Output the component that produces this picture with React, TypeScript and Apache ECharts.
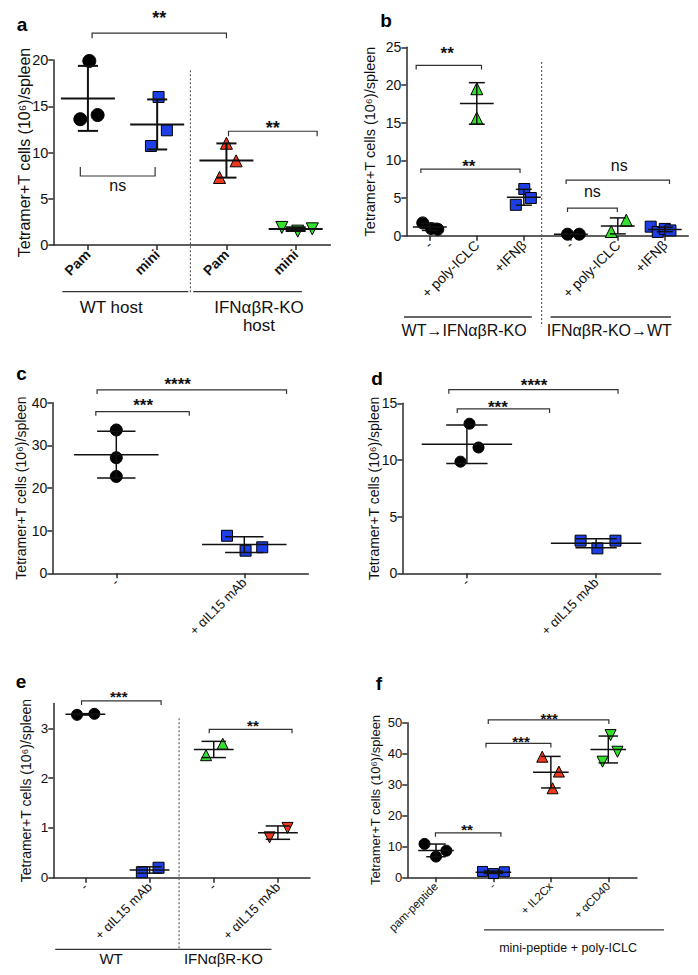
import React, { useEffect, useRef } from 'react';
import * as echarts from 'echarts';

const FONT = '"Liberation Sans", Arial, Helvetica, sans-serif';
const BLACK = '#000000';
const BLUE = '#1f3fe6';
const RED = '#f0381c';
const GREEN = '#33e02b';
const AXIS = '#2a2a2a';
const Y_NAME = 'Tetramer+T cells (10⁶)/spleen';

// ---------- Panel a ----------
const aCategories = ['Pam', 'mini', 'Pam', 'mini'];
const aYMax = 20;
const aYStep = 5;
const aWtPam = [19.9, 13.6, 14.05];
const aWtPamJitter = [0.02, -0.11, 0.14];
const aWtMini = [16.0, 12.4, 10.7];
const aWtMiniJitter = [0.02, 0.14, -0.09];
const aKoPam = [11.0, 9.1, 7.3];
const aKoPamJitter = [0.0, 0.14, -0.1];
const aKoMini = [1.9, 1.5, 1.75];
const aKoMiniJitter = [-0.2, 0.03, 0.24];

// ---------- Panel b ----------
const bCategories = ['-', '+ poly-ICLC', '+IFNβ', '-', '+ poly-ICLC', '+IFNβ'];
const bYMax = 25;
const bYStep = 5;
const bWtNone = [1.7, 0.95, 0.85];
const bWtNoneJitter = [-0.15, 0.03, 0.17];
const bWtPoly = [19.5, 15.6];
const bWtPolyJitter = [0, 0];
const bWtIfn = [4.1, 6.2, 5.0];
const bWtIfnJitter = [-0.17, 0.01, 0.15];
const bKoNone = [0.2, 0.2];
const bKoNoneJitter = [-0.07, 0.18];
const bKoPoly = [0.55, 2.05];
const bKoPolyJitter = [-0.14, 0.18];
const bKoIfn = [1.2, 0.5, 0.9, 0.7];
const bKoIfnJitter = [-0.3, -0.15, 0.0, 0.12];

// ---------- Panel c ----------
const cCategories = ['-', '+ αIL15 mAb'];
const cYMax = 40;
const cYStep = 10;
const cNone = [33.6, 27.1, 22.7];
const cNoneJitter = [0, 0, 0];
const cAb = [8.8, 5.3, 6.1];
const cAbJitter = [-0.135, 0.01, 0.14];

// ---------- Panel d ----------
const dCategories = ['-', '+ αIL15 mAb'];
const dYMax = 15;
const dYStep = 5;
const dNone = [13.2, 11.1, 9.85];
const dNoneJitter = [0.02, 0.09, -0.05];
const dAb = [2.88, 2.2, 2.88];
const dAbJitter = [-0.12, 0.01, 0.15];

// ---------- Panel e ----------
const eCategories = ['-', '+ αIL15 mAb', '-', '+ αIL15 mAb'];
const eYMax = 3.5;
const eYStep = 1;
const eYLabels = [0, 1, 2, 3];
const eWtNone = [3.27, 3.29];
const eWtNoneJitter = [-0.13, 0.14];
const eWtAb = [0.11, 0.2];
const eWtAbJitter = [-0.12, 0.14];
const eKoNone = [2.46, 2.69];
const eKoNoneJitter = [-0.12, 0.14];
const eKoAb = [0.81, 1.0];
const eKoAbJitter = [-0.13, 0.15];

// ---------- Panel f ----------
const fCategories = ['pam-peptide', '-', '+ IL2Cx', '+ αCD40'];
const fYMax = 50;
const fYStep = 10;
const fPam = [10.8, 6.7, 8.6];
const fPamJitter = [-0.2, 0.0, 0.18];
const fNone = [1.9, 1.2, 1.8];
const fNoneJitter = [-0.19, 0.0, 0.19];
const fIl2 = [39.0, 34.2, 28.8];
const fIl2Jitter = [-0.15, 0.14, 0.03];
const fCd40 = [46.0, 37.4, 40.6];
const fCd40Jitter = [0.04, -0.1, 0.16];

type Group = { cat: number; values: number[]; jitter: number[]; color: string; symbol: string; rotate?: number; size: number };
type Bracket = { x1: number; x2: number; y: number; tx: number; ty: number; text: string; up?: boolean; tick?: number };
type GLine = { x1: number; x2: number; y: number };
type GText = { x: number; y: number; text: string };
type Sep = { x: number; y1: number; y2: number };
type Panel = {
  letter: string; letterX: number; letterY: number;
  left: number; top: number; width: number; height: number;
  categories: string[]; yMax: number; yStep: number; yLabels?: number[];
  groups: Group[]; brackets: Bracket[]; glines: GLine[]; gtexts: GText[]; seps: Sep[];
  meanFrac: number; capFrac: number; barWidth: number;
  tickFont: number; catFont: number; catBold?: boolean; nameFont: number; nameGap: number;
  gtextFont: number; starFont: number;
};

const mean = (v: number[]) => v.reduce((s, x) => s + x, 0) / v.length;
const sd = (v: number[]) => {
  const m = mean(v);
  return Math.sqrt(v.reduce((s, x) => s + (x - m) * (x - m), 0) / (v.length - 1));
};

const panels: Panel[] = [
  {
    letter: 'a', letterX: 22, letterY: 24,
    left: 53.3, top: 60, width: 277, height: 185,
    categories: aCategories, yMax: aYMax, yStep: aYStep,
    groups: [
      { cat: 0, values: aWtPam, jitter: aWtPamJitter, color: BLACK, symbol: 'circle', size: 13 },
      { cat: 1, values: aWtMini, jitter: aWtMiniJitter, color: BLUE, symbol: 'rect', size: 11 },
      { cat: 2, values: aKoPam, jitter: aKoPamJitter, color: RED, symbol: 'triangle', size: 12 },
      { cat: 3, values: aKoMini, jitter: aKoMiniJitter, color: GREEN, symbol: 'triangle', rotate: 180, size: 12 },
    ],
    brackets: [
      { x1: 0.06, x2: 2.0, y: 22.9, tx: 1.03, ty: 24.97, text: '**', tick: 5 },
      { x1: -0.11, x2: 0.97, y: 7.46, tx: 0.43, ty: 6.38, text: 'ns', up: true, tick: 9 },
      { x1: 2.03, x2: 3.31, y: 12.3, tx: 2.67, ty: 13.1, text: '**', tick: 5 },
    ],
    seps: [{ x: 1.48, y1: 18.9, y2: -5.2 }],
    glines: [{ x1: -0.37, x2: 1.45, y: -5.05 }, { x1: 1.52, x2: 3.09, y: -5.05 }],
    gtexts: [{ x: 0.335, y: -6.76, text: 'WT host' }, { x: 2.47, y: -7.68, text: 'IFNαβR-KO\nhost' }],
    meanFrac: 0.39, capFrac: 0.145, barWidth: 2,
    tickFont: 14.5, catFont: 14, catBold: true, nameFont: 16, nameGap: 21, gtextFont: 17, starFont: 18,
  },
  {
    letter: 'b', letterX: 386, letterY: 20,
    left: 406.3, top: 47.3, width: 282, height: 188.4,
    categories: bCategories, yMax: bYMax, yStep: bYStep,
    groups: [
      { cat: 0, values: bWtNone, jitter: bWtNoneJitter, color: BLACK, symbol: 'circle', size: 12 },
      { cat: 1, values: bWtPoly, jitter: bWtPolyJitter, color: GREEN, symbol: 'triangle', size: 12 },
      { cat: 2, values: bWtIfn, jitter: bWtIfnJitter, color: BLUE, symbol: 'rect', size: 11 },
      { cat: 3, values: bKoNone, jitter: bKoNoneJitter, color: BLACK, symbol: 'circle', size: 12 },
      { cat: 4, values: bKoPoly, jitter: bKoPolyJitter, color: GREEN, symbol: 'triangle', size: 12 },
      { cat: 5, values: bKoIfn, jitter: bKoIfnJitter, color: BLUE, symbol: 'rect', size: 11 },
    ],
    brackets: [
      { x1: -0.29, x2: 1.1, y: 22.6, tx: 0.37, ty: 24.65, text: '**' },
      { x1: -0.19, x2: 1.92, y: 8.84, tx: 0.83, ty: 9.65, text: '**' },
      { x1: 2.9, x2: 5.1, y: 7.38, tx: 4.03, ty: 9.3, text: 'ns' },
      { x1: 2.93, x2: 3.99, y: 3.67, tx: 3.46, ty: 5.86, text: 'ns' },
    ],
    seps: [{ x: 2.38, y1: 23.05, y2: -12.0 }],
    glines: [{ x1: -0.55, x2: 2.17, y: -10.79 }, { x1: 2.57, x2: 5.13, y: -10.79 }],
    gtexts: [{ x: 0.73, y: -12.57, text: 'WT→IFNαβR-KO' }, { x: 3.82, y: -12.57, text: 'IFNαβR-KO→WT' }],
    meanFrac: 0.36, capFrac: 0.17, barWidth: 1.5,
    tickFont: 14, catFont: 14, nameFont: 14.5, nameGap: 29, gtextFont: 16, starFont: 17,
  },
  {
    letter: 'c', letterX: 21.5, letterY: 373,
    left: 52.3, top: 402.7, width: 256, height: 170.6,
    categories: cCategories, yMax: cYMax, yStep: cYStep,
    groups: [
      { cat: 0, values: cNone, jitter: cNoneJitter, color: BLACK, symbol: 'circle', size: 12 },
      { cat: 1, values: cAb, jitter: cAbJitter, color: BLUE, symbol: 'rect', size: 11 },
    ],
    brackets: [
      { x1: -0.15, x2: 1.33, y: 43.0, tx: 0.48, ty: 45.3, text: '****' },
      { x1: -0.16, x2: 0.57, y: 37.9, tx: 0.21, ty: 40.2, text: '***' },
    ],
    seps: [], glines: [], gtexts: [],
    meanFrac: 0.33, capFrac: 0.15, barWidth: 1.5,
    tickFont: 14, catFont: 13, nameFont: 14, nameGap: 24, gtextFont: 15, starFont: 17,
  },
  {
    letter: 'd', letterX: 377, letterY: 378,
    left: 402.3, top: 403.3, width: 258.4, height: 170,
    categories: dCategories, yMax: dYMax, yStep: dYStep,
    groups: [
      { cat: 0, values: dNone, jitter: dNoneJitter, color: BLACK, symbol: 'circle', size: 11 },
      { cat: 1, values: dAb, jitter: dAbJitter, color: BLUE, symbol: 'rect', size: 11 },
    ],
    brackets: [
      { x1: -0.14, x2: 1.17, y: 16.2, tx: 0.52, ty: 16.9, text: '****' },
      { x1: -0.075, x2: 0.64, y: 14.5, tx: 0.24, ty: 15.0, text: '***' },
    ],
    seps: [], glines: [], gtexts: [],
    meanFrac: 0.35, capFrac: 0.16, barWidth: 1.5,
    tickFont: 14, catFont: 13, nameFont: 14, nameGap: 21, gtextFont: 15, starFont: 17,
  },
  {
    letter: 'e', letterX: 21, letterY: 681,
    left: 53.3, top: 703.4, width: 256.7, height: 174.3,
    categories: eCategories, yMax: eYMax, yStep: eYStep, yLabels: eYLabels,
    groups: [
      { cat: 0, values: eWtNone, jitter: eWtNoneJitter, color: BLACK, symbol: 'circle', size: 11 },
      { cat: 1, values: eWtAb, jitter: eWtAbJitter, color: BLUE, symbol: 'rect', size: 11 },
      { cat: 2, values: eKoNone, jitter: eKoNoneJitter, color: GREEN, symbol: 'triangle', size: 11 },
      { cat: 3, values: eKoAb, jitter: eKoAbJitter, color: RED, symbol: 'triangle', rotate: 180, size: 11 },
    ],
    brackets: [
      { x1: -0.06, x2: 1.18, y: 3.55, tx: 0.52, ty: 3.71, text: '***' },
      { x1: 1.93, x2: 3.22, y: 2.98, tx: 2.61, ty: 3.13, text: '**' },
    ],
    seps: [{ x: 1.46, y1: 3.2, y2: -1.45 }],
    glines: [{ x1: -0.47, x2: 1.44, y: -1.44 }, { x1: 1.44, x2: 2.9, y: -1.44 }],
    gtexts: [{ x: 0.4, y: -1.63, text: 'WT' }, { x: 2.15, y: -1.63, text: 'IFNαβR-KO' }],
    meanFrac: 0.31, capFrac: 0.19, barWidth: 1.5,
    tickFont: 13.5, catFont: 13, nameFont: 14, nameGap: 20, gtextFont: 15, starFont: 15,
  },
  {
    letter: 'f', letterX: 379, letterY: 683,
    left: 407.3, top: 722.7, width: 229.7, height: 154.6,
    categories: fCategories, yMax: fYMax, yStep: fYStep,
    groups: [
      { cat: 0, values: fPam, jitter: fPamJitter, color: BLACK, symbol: 'circle', size: 11 },
      { cat: 1, values: fNone, jitter: fNoneJitter, color: BLUE, symbol: 'rect', size: 10 },
      { cat: 2, values: fIl2, jitter: fIl2Jitter, color: RED, symbol: 'triangle', size: 11 },
      { cat: 3, values: fCd40, jitter: fCd40Jitter, color: GREEN, symbol: 'triangle', rotate: 180, size: 11 },
    ],
    brackets: [
      { x1: -0.01, x2: 1.13, y: 14.4, tx: 0.54, ty: 16.6, text: '**' },
      { x1: 0.87, x2: 2.0, y: 43.3, tx: 1.48, ty: 45.1, text: '***' },
      { x1: 0.91, x2: 3.01, y: 50.9, tx: 1.97, ty: 52.5, text: '***' },
    ],
    seps: [],
    glines: [{ x1: 0.836, x2: 3.97, y: -17.0 }],
    gtexts: [{ x: 2.3, y: -22.9, text: 'mini-peptide + poly-ICLC' }],
    meanFrac: 0.31, capFrac: 0.17, barWidth: 1.5,
    tickFont: 13, catFont: 11.5, nameFont: 13, nameGap: 25, gtextFont: 12.5, starFont: 15,
  },
];

function buildOption(): any {
  const grid: any[] = [];
  const xAxis: any[] = [];
  const yAxis: any[] = [];
  const series: any[] = [];
  const graphic: any[] = [];

  panels.forEach((p, i) => {
    const n = p.categories.length;
    grid.push({ left: p.left, top: p.top, width: p.width, height: p.height, containLabel: false });
    xAxis.push({
      type: 'category', gridIndex: i, data: p.categories, boundaryGap: true, position: 'bottom',
      axisLine: { show: true, onZero: false, lineStyle: { color: AXIS, width: 1.5 } },
      axisTick: { show: true, alignWithLabel: true, length: 5, lineStyle: { color: AXIS, width: 1.5 } },
      axisLabel: {
        interval: 0, rotate: 45, margin: 7, fontSize: p.catFont, fontFamily: FONT,
        fontWeight: p.catBold ? 'bold' : 'normal', color: '#111',
      },
      splitLine: { show: false },
    });
    xAxis.push({ type: 'value', gridIndex: i, min: -0.5, max: n - 0.5, show: false, axisLine: { onZero: false } });
    const yTick: any = { show: true, length: 5, lineStyle: { color: AXIS, width: 1.5 } };
    const yLab: any = { fontSize: p.tickFont, fontFamily: FONT, color: '#111', margin: 5 };
    if (p.yLabels) {
      yTick.customValues = p.yLabels;
      yLab.customValues = p.yLabels;
    }
    yAxis.push({
      type: 'value', gridIndex: i, min: 0, max: p.yMax, interval: p.yStep, position: 'left',
      name: Y_NAME, nameLocation: 'middle', nameRotate: 90, nameGap: p.nameGap, nameMoveOverlap: false,
      nameTextStyle: { fontSize: p.nameFont, fontFamily: FONT, color: '#111' },
      axisLine: { show: true, onZero: false, lineStyle: { color: AXIS, width: 1.5 } },
      axisTick: yTick, axisLabel: yLab, splitLine: { show: false },
    });

    const xi = 2 * i + 1;
    p.groups.forEach((g) => {
      series.push({
        type: 'scatter', xAxisIndex: xi, yAxisIndex: i, silent: true, z: 3,
        symbol: g.symbol, symbolSize: g.size, symbolRotate: g.rotate || 0,
        data: g.values.map((v, k) => [g.cat + g.jitter[k], v]),
        itemStyle: { color: g.color, borderColor: '#000', borderWidth: 1, opacity: 1 },
      });
    });

    // error bars: mean ± SD computed from the values
    series.push({
      type: 'custom', xAxisIndex: xi, yAxisIndex: i, silent: true, clip: false, z: 4,
      data: p.groups.map((g) => {
        const m = mean(g.values);
        const s = sd(g.values);
        return [g.cat, m, m - s, m + s];
      }),
      renderItem: (params: any, api: any) => {
        const x = api.value(0);
        const pm = api.coord([x, api.value(1)]);
        const pl = api.coord([x, api.value(2)]);
        const ph = api.coord([x, api.value(3)]);
        const band = api.size([1, 0])[0];
        const mw = band * p.meanFrac;
        const cw = band * p.capFrac;
        const st = () => ({ stroke: '#111', lineWidth: p.barWidth });
        return {
          type: 'group',
          children: [
            { type: 'line', shape: { x1: pm[0] - mw, y1: pm[1], x2: pm[0] + mw, y2: pm[1] }, style: st() },
            { type: 'line', shape: { x1: pl[0], y1: pl[1], x2: ph[0], y2: ph[1] }, style: st() },
            { type: 'line', shape: { x1: pl[0] - cw, y1: pl[1], x2: pl[0] + cw, y2: pl[1] }, style: st() },
            { type: 'line', shape: { x1: ph[0] - cw, y1: ph[1], x2: ph[0] + cw, y2: ph[1] }, style: st() },
          ],
        };
      },
    });

    // significance brackets
    series.push({
      type: 'custom', xAxisIndex: xi, yAxisIndex: i, silent: true, clip: false, z: 5,
      data: p.brackets.map((b) => [b.x1, b.y, b.x2, b.tx, b.ty]),
      renderItem: (params: any, api: any) => {
        const b = p.brackets[params.dataIndex];
        const l = api.coord([api.value(0), api.value(1)]);
        const r = api.coord([api.value(2), api.value(1)]);
        const t = api.coord([api.value(3), api.value(4)]);
        const tk = b.up ? -(b.tick ?? 9) : (b.tick ?? 4);
        const star = b.text.indexOf('*') >= 0;
        const fs = star ? p.starFont : 16;
        return {
          type: 'group',
          children: [
            {
              type: 'polyline',
              shape: { points: [[l[0], l[1] + tk], [l[0], l[1]], [r[0], r[1]], [r[0], r[1] + tk]] },
              style: { stroke: '#333', lineWidth: 1.2, fill: 'none' },
            },
            {
              type: 'text', x: t[0], y: t[1] + (star ? fs * 0.23 : 0),
              style: {
                text: b.text, fontSize: fs, fontFamily: FONT, fontWeight: star ? 'bold' : 'normal',
                fill: '#111', align: 'center', verticalAlign: 'middle',
              },
            },
          ],
        };
      },
    });

    if (p.seps.length) {
      series.push({
        type: 'custom', xAxisIndex: xi, yAxisIndex: i, silent: true, clip: false, z: 2,
        data: p.seps.map((s) => [s.x, s.y1, s.y2]),
        renderItem: (params: any, api: any) => {
          const a = api.coord([api.value(0), api.value(1)]);
          const b = api.coord([api.value(0), api.value(2)]);
          return {
            type: 'line', shape: { x1: a[0], y1: a[1], x2: b[0], y2: b[1] },
            style: { stroke: '#555', lineWidth: 1.1, lineDash: [2, 2] },
          };
        },
      });
    }
    if (p.glines.length) {
      series.push({
        type: 'custom', xAxisIndex: xi, yAxisIndex: i, silent: true, clip: false, z: 2,
        data: p.glines.map((g) => [g.x1, g.y, g.x2]),
        renderItem: (params: any, api: any) => {
          const a = api.coord([api.value(0), api.value(1)]);
          const b = api.coord([api.value(2), api.value(1)]);
          return {
            type: 'line', shape: { x1: a[0], y1: a[1], x2: b[0], y2: b[1] },
            style: { stroke: '#333', lineWidth: 1.3 },
          };
        },
      });
    }
    if (p.gtexts.length) {
      series.push({
        type: 'custom', xAxisIndex: xi, yAxisIndex: i, silent: true, clip: false, z: 2,
        data: p.gtexts.map((g) => [g.x, g.y]),
        renderItem: (params: any, api: any) => {
          const g = p.gtexts[params.dataIndex];
          const a = api.coord([api.value(0), api.value(1)]);
          return {
            type: 'text', x: a[0], y: a[1],
            style: {
              text: g.text, fontSize: p.gtextFont, fontFamily: FONT, fill: '#111',
              align: 'center', verticalAlign: 'middle', lineHeight: p.gtextFont + 1,
            },
          };
        },
      });
    }

    graphic.push({
      type: 'text', x: p.letterX, y: p.letterY, silent: true,
      style: { text: p.letter, fontSize: 19, fontWeight: 'bold', fontFamily: FONT, fill: '#000', align: 'center', verticalAlign: 'middle' },
    });
  });

  return { animation: false, backgroundColor: '#ffffff', grid, xAxis, yAxis, series, graphic };
}

export default function App() {
  const ref = useRef<HTMLDivElement>(null);
  useEffect(() => {
    if (!ref.current) return;
    const chart = echarts.init(ref.current, undefined, { renderer: 'svg' });
    chart.setOption(buildOption());
    return () => chart.dispose();
  }, []);
  return <div ref={ref} style={{ position: 'absolute', left: 0, top: 0, width: 698, height: 975, background: '#fff' }} />;
}
